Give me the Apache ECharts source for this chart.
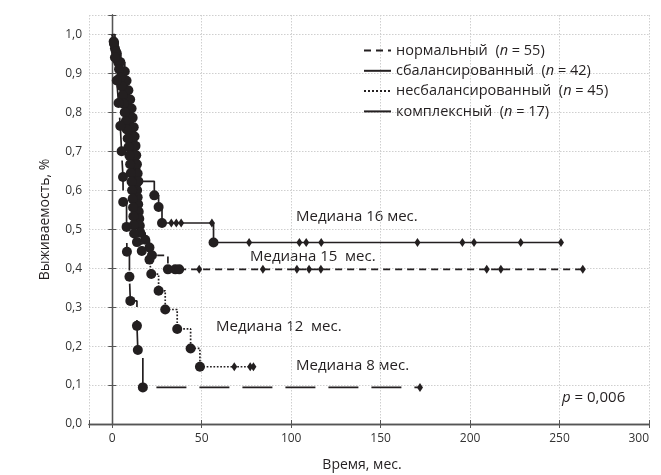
<!DOCTYPE html>
<html>
<head>
<meta charset="utf-8">
<script src="https://cdn.jsdelivr.net/npm/echarts@6/dist/echarts.min.js"></script>
<style>
  html, body { margin: 0; padding: 0; background: #ffffff; }
  #chart { width: 661px; height: 475px; }
</style>
</head>
<body>
<div id="chart"></div>
<script>
// Kaplan–Meier survival by group: [time in months, survival]
const groupNames = ['нормальный', 'сбалансированный', 'несбалансированный', 'комплексный'];
const groupSizes = [55, 42, 45, 17];

const normalSteps = [
  [0, 1], [0.8, 0.982], [1.5, 0.964], [2.5, 0.945], [3.5, 0.927], [4.5, 0.909],
  [5.2, 0.891], [6, 0.873], [6.8, 0.855], [7.5, 0.836], [8.2, 0.818], [9, 0.8],
  [9.6, 0.782], [10.2, 0.764], [10.8, 0.745], [11.3, 0.727], [11.8, 0.709], [12.2, 0.691],
  [12.6, 0.673], [13, 0.655], [13.3, 0.636], [13.6, 0.618], [13.9, 0.6], [14.2, 0.582],
  [14.5, 0.564], [14.8, 0.545], [15.1, 0.527], [15.4, 0.509], [15.7, 0.491], [18.4, 0.473],
  [20.8, 0.453], [22.2, 0.433], [31.1, 0.397], [35.2, 0.397], [37.4, 0.397]
];
const normalCensored = [48.6, 84.2, 103.2, 110, 116.6, 209.3, 217.2, 263];

const balancedSteps = [
  [0, 1], [1, 0.976], [2.5, 0.952], [4.5, 0.929], [7, 0.905], [8, 0.881],
  [9, 0.857], [10, 0.833], [10.8, 0.81], [11.4, 0.786], [12, 0.762], [12.5, 0.738],
  [13, 0.714], [13.4, 0.69], [13.8, 0.667], [14.2, 0.643], [14.6, 0.623], [23.5, 0.587],
  [25.9, 0.557], [27.8, 0.516], [56.6, 0.466]
];
const balancedCensored = [33, 35.8, 38.5, 55.7, 76.5, 104.6, 108.4, 116.8, 170.6, 195.7, 202.2, 228.3, 250.8];

const unbalancedSteps = [
  [0, 1], [1, 0.978], [2, 0.956], [3, 0.933], [3.8, 0.911], [4.5, 0.889],
  [5.2, 0.867], [5.8, 0.844], [6.4, 0.822], [7, 0.8], [7.6, 0.778], [8.1, 0.756],
  [8.6, 0.733], [9.1, 0.711], [9.6, 0.689], [10, 0.667], [10.4, 0.644], [10.8, 0.622],
  [11.1, 0.6], [11.4, 0.578], [11.6, 0.556], [11.8, 0.533], [12, 0.511], [12.2, 0.489],
  [13.8, 0.467], [16.5, 0.444], [20.8, 0.422], [21.8, 0.385], [25.9, 0.342], [29.6, 0.294],
  [36.3, 0.244], [43.8, 0.194], [49, 0.147]
];
const unbalancedCensored = [68.2, 77.1, 78.9];

const complexSteps = [
  [0, 1], [1.5, 0.941], [2.5, 0.882], [3.5, 0.824], [4.5, 0.765], [5.2, 0.7],
  [6, 0.634], [6.1, 0.57], [8, 0.506], [8.2, 0.442], [9.6, 0.378], [10.1, 0.316],
  [13.8, 0.252], [14.3, 0.19], [17.1, 0.094]
];
const complexCensored = [172];

const medianTexts = ['Медиана 16 мес.', 'Медиана 15  мес.', 'Медиана 12  мес.', 'Медиана 8 мес.'];
const pValueText = '0,006';

const xTitle = 'Время, мес.';
const yTitle = 'Выживаемость, %';

const INK = '#231f20';
const FONT = '"Open Sans", "Noto Sans", sans-serif';

const groups = [
  { steps: normalSteps, censored: normalCensored, dash: [7, 5] },
  { steps: balancedSteps, censored: balancedCensored, dash: 'solid' },
  { steps: unbalancedSteps, censored: unbalancedCensored, dash: 'dotted' },
  { steps: complexSteps, censored: complexCensored, dash: [30, 13] }
];

// survival level of a step curve at time t
function survivalAt(steps, t) {
  let s = steps[0][1];
  for (const [time, value] of steps) { if (time <= t) s = value; }
  return s;
}

const series = [];
groups.forEach((g, i) => {
  const censorPts = g.censored.map(t => [t, survivalAt(g.steps, t)]);
  const lastT = Math.max(g.steps[g.steps.length - 1][0], ...g.censored);
  const lineData = g.steps.concat([[lastT, survivalAt(g.steps, lastT)]]);
  series.push({
    name: groupNames[i],
    type: 'line',
    step: 'end',
    data: lineData,
    symbol: 'none',
    silent: true,
    lineStyle: { color: INK, width: 1.7, type: g.dash },
    itemStyle: { color: INK },
    z: 2
  });
  series.push({
    type: 'scatter',
    data: g.steps.slice(1),
    symbol: 'circle',
    symbolSize: 10,
    silent: true,
    itemStyle: { color: INK, opacity: 1 },
    z: 3
  });
  series.push({
    type: 'scatter',
    data: censorPts,
    symbol: 'diamond',
    symbolSize: [6, 9],
    silent: true,
    itemStyle: { color: INK, opacity: 1 },
    z: 3
  });
});

const chart = echarts.init(document.getElementById('chart'), null, { renderer: 'canvas' });

const frameLine = { show: true, lineStyle: { color: '#555555', width: 1.3 } };
const gridLine = { show: true, lineStyle: { color: '#cfcfcf', width: 1, type: [1.5, 1.5] } };
const innerTick = { show: true, inside: true, length: 4, lineStyle: { color: '#555555' } };

chart.setOption({
  animation: false,
  backgroundColor: '#ffffff',
  textStyle: { fontFamily: FONT },
  grid: { left: 89, right: 12, top: 15, bottom: 51, outerBoundsMode: 'none' },
  legend: {
    data: groupNames,
    orient: 'vertical',
    left: 363,
    top: 43,
    padding: 0,
    itemWidth: 27,
    itemHeight: 14,
    itemGap: 5.3,
    selectedMode: false,
    itemStyle: { opacity: 0 },
    formatter: name => {
      const n = groupSizes[groupNames.indexOf(name)];
      return '{t|' + name + '  (}{i|n}{t| = ' + n + ')}';
    },
    textStyle: {
      rich: {
        t: { fontFamily: FONT, fontSize: 14.5, color: INK },
        i: { fontFamily: FONT, fontSize: 14.5, color: INK, fontStyle: 'italic' }
      }
    }
  },
  xAxis: [{
    type: 'value',
    min: -13,
    max: 300,
    minInterval: 50,
    maxInterval: 50,
    name: xTitle,
    nameLocation: 'middle',
    nameGap: 34,
    nameTextStyle: { fontFamily: FONT, fontSize: 14, color: INK, padding: [0, 14, 0, 0] },
    axisLine: frameLine,
    axisTick: innerTick,
    axisLabel: {
      fontFamily: FONT, fontSize: 12, color: '#333333', margin: 9,
      alignMaxLabel: 'right',
      formatter: v => (v < 0 ? '' : String(v))
    },
    splitLine: gridLine
  }, {
    type: 'value',
    position: 'top',
    min: -13,
    max: 300,
    minInterval: 50,
    maxInterval: 50,
    axisLine: frameLine,
    axisTick: innerTick,
    axisLabel: { show: false },
    splitLine: { show: false }
  }],
  yAxis: [{
    type: 'value',
    min: 0,
    max: 1.05,
    interval: 0.1,
    name: yTitle,
    nameLocation: 'middle',
    nameGap: 37,
    nameTextStyle: { fontFamily: FONT, fontSize: 14, color: INK },
    axisLine: frameLine,
    axisTick: innerTick,
    axisLabel: {
      fontFamily: FONT, fontSize: 12, color: '#333333', margin: 7,
      formatter: v => (v > 1.001 ? '' : v.toFixed(1).replace('.', ','))
    },
    splitLine: gridLine
  }, {
    type: 'value',
    position: 'right',
    min: 0,
    max: 1.05,
    interval: 0.1,
    axisLine: frameLine,
    axisTick: innerTick,
    axisLabel: { show: false },
    splitLine: { show: false }
  }],
  series: series,
  graphic: [
    { type: 'text', style: { x: 296, y: 217, text: medianTexts[0], font: '15px ' + FONT, fill: INK, verticalAlign: 'middle' } },
    { type: 'text', style: { x: 250, y: 257, text: medianTexts[1], font: '15px ' + FONT, fill: INK, verticalAlign: 'middle' } },
    { type: 'text', style: { x: 216, y: 327, text: medianTexts[2], font: '15px ' + FONT, fill: INK, verticalAlign: 'middle' } },
    { type: 'text', style: { x: 296, y: 366, text: medianTexts[3], font: '15px ' + FONT, fill: INK, verticalAlign: 'middle' } },
    { type: 'text', style: {
        x: 562, y: 398, verticalAlign: 'middle',
        text: '{i|p}{t| = ' + pValueText + '}',
        rich: {
          i: { fontFamily: FONT, fontSize: 15, fontStyle: 'italic', fill: INK },
          t: { fontFamily: FONT, fontSize: 15, fill: INK }
        }
    } }
  ]
});
</script>
</body>
</html>
